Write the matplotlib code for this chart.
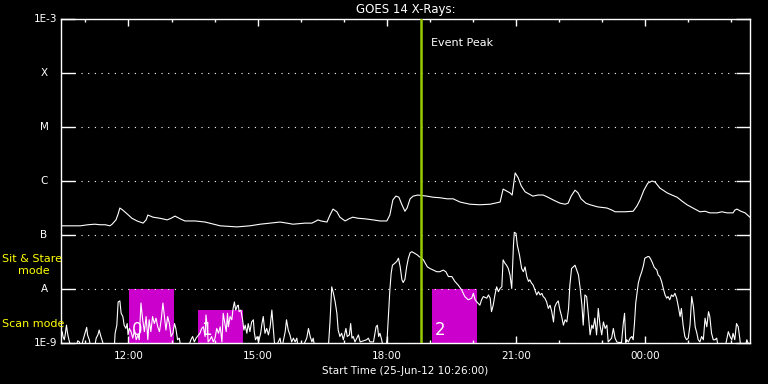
import matplotlib
matplotlib.use("Agg")
import matplotlib.pyplot as plt
import matplotlib.transforms as mtransforms
from matplotlib.ticker import FixedLocator, NullLocator
import numpy as np

# ---------------- data (time in hours of 25-Jun-12, >24 = next day; flux as log10 W/m^2) -------------
long_t = [10.43, 10.64, 10.88, 11.06, 11.22, 11.34, 11.46, 11.57, 11.62, 11.71, 11.76, 11.80, 11.87,
          11.97, 12.08, 12.20, 12.34, 12.41, 12.45, 12.57, 12.73, 12.90, 12.99, 13.08, 13.20, 13.31,
          13.55, 13.78, 14.13, 14.52, 14.82, 15.06, 15.29, 15.52, 15.68, 15.82, 16.10, 16.26, 16.36,
          16.40, 16.47, 16.61, 16.68, 16.75, 16.84, 16.91, 17.03, 17.12, 17.21, 17.33, 17.49, 17.68,
          17.84, 18.00, 18.07, 18.14, 18.21, 18.28, 18.35, 18.42, 18.47, 18.54, 18.61, 18.72, 18.93,
          19.07, 19.23, 19.40, 19.54, 19.70, 19.93, 20.16, 20.40, 20.63, 20.70, 20.79, 20.86, 20.91,
          20.98, 21.05, 21.12, 21.21, 21.30, 21.39, 21.51, 21.63, 21.74, 21.86, 22.02, 22.14, 22.21,
          22.28, 22.37, 22.44, 22.51, 22.62, 22.72, 22.90, 23.11, 23.23, 23.30, 23.53, 23.72, 23.81,
          23.88, 23.97, 24.06, 24.16, 24.23, 24.34, 24.51, 24.62, 24.74, 24.85, 24.97, 25.11, 25.27,
          25.39, 25.50, 25.67, 25.78, 25.90, 26.04, 26.08, 26.13, 26.22, 26.32, 26.43]
long_log = [-6.83, -6.83, -6.83, -6.81, -6.80, -6.81, -6.81, -6.83, -6.80, -6.72, -6.61, -6.50, -6.54,
            -6.61, -6.69, -6.74, -6.78, -6.72, -6.63, -6.67, -6.69, -6.72, -6.69, -6.65, -6.70, -6.74,
            -6.74, -6.76, -6.83, -6.85, -6.83, -6.80, -6.78, -6.76, -6.78, -6.80, -6.78, -6.78, -6.74,
            -6.72, -6.74, -6.76, -6.63, -6.52, -6.57, -6.67, -6.74, -6.70, -6.67, -6.69, -6.70, -6.72,
            -6.74, -6.74, -6.63, -6.35, -6.28, -6.30, -6.44, -6.56, -6.50, -6.33, -6.28, -6.26, -6.28,
            -6.30, -6.31, -6.33, -6.33, -6.39, -6.43, -6.44, -6.43, -6.39, -6.15, -6.19, -6.22, -6.26,
            -5.85, -5.94, -6.09, -6.20, -6.24, -6.28, -6.26, -6.26, -6.30, -6.35, -6.41, -6.43, -6.41,
            -6.28, -6.17, -6.22, -6.33, -6.41, -6.44, -6.48, -6.50, -6.54, -6.57, -6.57, -6.56, -6.46,
            -6.35, -6.17, -6.04, -6.00, -6.02, -6.13, -6.22, -6.26, -6.30, -6.37, -6.44, -6.50, -6.57,
            -6.56, -6.59, -6.59, -6.57, -6.59, -6.59, -6.54, -6.52, -6.56, -6.59, -6.67]

short_t = [10.43, 10.46, 10.48, 10.51, 10.53, 10.56, 10.58, 10.60, 10.63, 10.67, 10.78, 10.82, 10.86,
           10.90, 10.94, 10.99, 11.03, 11.05, 11.09, 11.13, 11.21, 11.25, 11.29, 11.32, 11.36, 11.40,
           11.44, 11.67, 11.69, 11.73, 11.76, 11.80, 11.83, 11.87, 11.90, 11.94, 11.97, 11.99, 12.02,
           12.06, 12.10, 12.14, 12.18, 12.22, 12.25, 12.29, 12.33, 12.37, 12.41, 12.45, 12.48, 12.52,
           12.56, 12.60, 12.64, 12.68, 12.72, 12.76, 12.80, 12.83, 12.87, 12.91, 12.95, 12.99, 13.03,
           13.07, 13.10, 13.14, 13.18, 13.22, 13.38, 13.45, 13.49, 13.53, 13.57, 13.66, 13.70, 13.74,
           13.78, 13.80, 13.83, 13.85, 13.89, 13.93, 13.97, 14.01, 14.05, 14.09, 14.13, 14.17, 14.20,
           14.24, 14.27, 14.30, 14.32, 14.36, 14.40, 14.43, 14.46, 14.49, 14.53, 14.55, 14.57, 14.61,
           14.65, 14.68, 14.71, 14.75, 14.78, 14.82, 14.86, 14.90, 14.92, 14.95, 14.99, 15.02, 15.07,
           15.10, 15.13, 15.17, 15.21, 15.25, 15.29, 15.33, 15.36, 15.40, 15.48, 15.52, 15.56, 15.64,
           15.67, 15.71, 15.75, 15.79, 15.83, 15.87, 15.91, 15.94, 16.02, 16.10, 16.14, 16.18, 16.22,
           16.26, 16.29, 16.33, 16.64, 16.68, 16.72, 16.76, 16.80, 16.84, 16.87, 16.91, 16.95, 16.99,
           17.05, 17.08, 17.13, 17.16, 17.19, 17.22, 17.26, 17.34, 17.38, 17.53, 17.57, 17.61, 17.69,
           17.75, 17.78, 17.81, 17.84, 17.88, 17.92, 17.98, 18.01, 18.04, 18.07, 18.10, 18.13, 18.19,
           18.23, 18.27, 18.31, 18.35, 18.38, 18.42, 18.46, 18.50, 18.54, 18.58, 18.65, 18.71, 18.75,
           18.81, 18.85, 18.89, 18.94, 19.00, 19.08, 19.16, 19.23, 19.31, 19.37, 19.43, 19.51, 19.58,
           19.66, 19.74, 19.81, 19.89, 19.97, 20.01, 20.05, 20.09, 20.16, 20.20, 20.24, 20.32, 20.36,
           20.40, 20.43, 20.47, 20.51, 20.55, 20.59, 20.63, 20.67, 20.70, 20.74, 20.78, 20.82, 20.86,
           20.90, 20.94, 20.96, 21.00, 21.03, 21.08, 21.13, 21.17, 21.21, 21.25, 21.29, 21.32, 21.36,
           21.40, 21.44, 21.48, 21.52, 21.56, 21.60, 21.63, 21.67, 21.71, 21.75, 21.79, 21.83, 21.87,
           21.90, 21.94, 21.98, 22.02, 22.06, 22.10, 22.14, 22.18, 22.22, 22.25, 22.29, 22.33, 22.37,
           22.41, 22.45, 22.49, 22.53, 22.56, 22.60, 22.64, 22.68, 22.72, 22.76, 22.79, 22.83, 22.87,
           22.91, 22.95, 22.99, 23.03, 23.07, 23.11, 23.14, 23.22, 23.26, 23.30, 23.34, 23.38, 23.45,
           23.49, 23.52, 23.55, 23.57, 23.61, 23.65, 23.69, 23.72, 23.75, 23.78, 23.81, 23.84, 23.88,
           23.92, 23.96, 23.99, 24.06, 24.09, 24.13, 24.17, 24.21, 24.27, 24.30, 24.34, 24.38, 24.42,
           24.46, 24.50, 24.53, 24.57, 24.61, 24.65, 24.69, 24.73, 24.77, 24.81, 24.84, 24.88, 24.92,
           24.96, 25.00, 25.04, 25.08, 25.12, 25.16, 25.20, 25.23, 25.27, 25.31, 25.35, 25.39, 25.43,
           25.47, 25.50, 25.54, 25.58, 25.62, 25.66, 25.70, 25.85, 25.89, 25.93, 25.97, 26.01, 26.04,
           26.08, 26.12, 26.16, 26.20, 26.22, 26.32, 26.36, 26.43]
short_log = [-8.82, -8.79, -8.88, -8.94, -8.85, -8.67, -8.79, -8.88, -8.98, -9.10, -9.10, -8.96, -8.98,
             -9.10, -8.96, -8.82, -8.71, -8.85, -8.94, -9.10, -9.10, -8.91, -8.85, -8.76, -8.88, -8.98,
             -9.10, -9.10, -8.82, -8.67, -8.24, -8.22, -8.45, -8.51, -8.67, -8.73, -8.64, -8.85, -8.73,
             -8.79, -8.91, -8.76, -8.94, -8.85, -8.94, -8.26, -8.57, -8.79, -8.51, -8.94, -8.57, -8.79,
             -8.51, -8.64, -8.54, -8.70, -8.79, -8.57, -8.26, -8.48, -8.76, -8.51, -8.64, -8.88, -8.82,
             -8.64, -8.73, -8.94, -8.91, -9.10, -9.10, -8.94, -8.88, -8.98, -8.91, -8.82, -8.73, -8.70,
             -8.88, -8.48, -8.70, -8.98, -8.94, -8.88, -8.98, -8.91, -8.73, -8.82, -8.70, -8.98, -8.45,
             -8.64, -8.79, -8.45, -8.70, -8.51, -8.57, -8.36, -8.24, -8.39, -8.31, -8.30, -8.42, -8.39,
             -8.57, -8.76, -8.67, -8.82, -8.64, -8.79, -8.61, -8.57, -8.79, -8.94, -8.88, -8.98, -8.82,
             -8.64, -8.51, -8.82, -8.73, -8.85, -8.70, -8.39, -8.70, -9.10, -8.98, -8.91, -9.10, -8.79,
             -8.57, -8.76, -8.85, -8.98, -8.91, -8.98, -8.91, -9.10, -9.10, -8.98, -8.91, -8.73, -8.88,
             -8.98, -8.91, -9.10, -9.10, -8.61, -7.96, -8.08, -8.24, -8.45, -8.76, -8.88, -8.82, -8.94,
             -8.73, -8.88, -8.85, -8.64, -8.91, -8.88, -8.98, -8.85, -8.98, -8.94, -8.91, -8.98, -8.98,
             -8.70, -8.67, -8.88, -8.82, -8.94, -9.10, -9.10, -8.88, -8.45, -8.02, -7.71, -7.56, -7.52,
             -7.49, -7.43, -7.59, -7.83, -7.88, -7.82, -7.59, -7.43, -7.33, -7.31, -7.34, -7.37, -7.40,
             -7.43, -7.46, -7.52, -7.59, -7.62, -7.65, -7.68, -7.68, -7.65, -7.68, -7.77, -7.77, -7.86,
             -7.93, -8.02, -8.14, -8.20, -8.17, -8.08, -8.20, -8.24, -8.30, -8.20, -8.14, -8.17, -8.11,
             -8.17, -8.42, -8.30, -8.11, -7.96, -8.05, -7.99, -7.96, -7.46, -7.52, -7.56, -7.62, -7.74,
             -7.99, -7.19, -6.95, -6.97, -7.19, -7.37, -7.62, -7.68, -7.59, -7.77, -7.86, -7.83, -7.89,
             -7.93, -8.02, -8.11, -8.05, -8.11, -8.08, -8.14, -8.17, -8.24, -8.36, -8.30, -8.42, -8.61,
             -8.33, -8.26, -8.22, -8.39, -8.51, -8.67, -8.57, -8.61, -8.36, -7.93, -7.62, -7.59, -7.56,
             -7.65, -7.74, -7.99, -8.30, -8.67, -8.11, -8.14, -8.48, -8.85, -8.67, -8.73, -8.54, -8.85,
             -8.36, -8.67, -8.85, -8.61, -8.73, -8.67, -8.98, -8.91, -8.73, -8.91, -8.98, -8.99, -8.99,
             -8.64, -8.45, -8.99, -8.94, -8.98, -8.91, -8.88, -8.94, -8.64, -8.26, -8.08, -7.89, -7.77,
             -7.68, -7.56, -7.43, -7.40, -7.40, -7.45, -7.52, -7.60, -7.65, -7.74, -7.77, -7.86, -7.99,
             -8.11, -8.17, -8.14, -8.20, -8.11, -8.14, -8.08, -8.17, -8.33, -8.51, -8.36, -8.67, -8.88,
             -8.94, -8.91, -8.67, -8.14, -8.33, -8.70, -8.82, -8.94, -8.98, -8.88, -8.94, -8.54, -8.70,
             -8.42, -8.51, -8.82, -8.94, -8.94, -8.91, -9.10, -9.10, -8.94, -8.79, -8.88, -8.94, -8.82,
             -8.94, -8.64, -8.70, -8.94, -9.10, -9.10, -8.94, -9.10]

level_values = [1e-9, 1e-8, 1e-7, 1e-6, 1e-5, 1e-4, 1e-3]
level_labels = ["1E-9", "A", "B", "C", "M", "X", "1E-3"]
hour_ticks = [12, 15, 18, 21, 24]
hour_labels = ["12:00", "15:00", "18:00", "21:00", "00:00"]
minor_hours = list(range(11, 27))
t_start, t_end = 10.4333, 26.4333
event_peak_t = 18.79
box_start = [12.01, 13.62, 19.05]
box_end = [13.06, 14.66, 20.09]
box_top = [1e-8, 4.1e-9, 1e-8]
box_labels = ["0", "1", "2"]

# ---------------- figure ----------------
W, H = 768, 384
fig = plt.figure(figsize=(W / 100, H / 100), dpi=100, facecolor="black")
ax = fig.add_axes([61 / W, 41 / H, 689 / W, 324 / H], facecolor="black")
ax.set_yscale("log")
ax.set_xlim(t_start, t_end)
ax.set_ylim(1e-9, 1e-3)

for s in ax.spines.values():
    s.set_color("white")
    s.set_linewidth(1.0)

magenta = "#CC00CC"
for s, e, top in zip(box_start, box_end, box_top):
    ax.bar(s, top - 1e-9, bottom=1e-9, width=e - s, align="edge", color=magenta,
           linewidth=0, zorder=1)
for s, lab in zip(box_start, box_labels):
    ax.text(s + 0.06, 10 ** -8.93, lab, color="white", fontsize=12, ha="left", va="bottom",
            zorder=2)

ax.plot(long_t, 10 ** np.array(long_log), color="white", lw=0.8, zorder=3)
ax.plot(short_t, 10 ** np.array(short_log), color="white", lw=0.8, zorder=3)

ax.axvline(event_peak_t, color="#99CC00", lw=1.8, zorder=4)
ax.text(event_peak_t + 0.23, 10 ** -3.45, "Event Peak", color="white", fontsize=8,
        ha="left", va="center")

# y axis: levels
ax.yaxis.set_major_locator(FixedLocator(level_values))
ax.yaxis.set_minor_locator(NullLocator())
ax.tick_params(axis="y", which="major", direction="in", length=10, width=1, color="white",
               left=True, right=True, labelleft=False)
ax.grid(axis="y", which="major", color="white", linestyle=(0, (1, 5)), linewidth=0.8)
trans = mtransforms.blended_transform_factory(ax.transAxes, ax.transData)
for v, lab in zip(level_values, level_labels):
    if lab.startswith("1E"):
        ax.text(-4 / 689, v, lab, transform=trans, color="white", fontsize=7.5,
                ha="right", va="center")
    else:
        ax.text(-17 / 689, v, lab, transform=trans, color="white", fontsize=7.5,
                ha="center", va="center")

# x axis: hours
ax.xaxis.set_major_locator(FixedLocator(hour_ticks))
ax.set_xticklabels(hour_labels)
ax.xaxis.set_minor_locator(FixedLocator(minor_hours))
ax.tick_params(axis="x", which="major", direction="in", length=5, width=1, color="white",
               top=True, bottom=True, labelcolor="white", labelsize=7.5, pad=6)
ax.tick_params(axis="x", which="minor", direction="in", length=2.5, width=1, color="white",
               top=True, bottom=True)
ax.set_xlabel("Start Time (25-Jun-12 10:26:00)", color="white", fontsize=7.5, labelpad=3)
ax.set_title("GOES 14 X-Rays:", color="white", fontsize=8.5, pad=4)

# mode labels
fig.text(2 / W, 1 - 259 / H, "Sit & Stare", color="#FFFF00", fontsize=8, ha="left", va="center")
fig.text(34 / W, 1 - 271 / H, "mode", color="#FFFF00", fontsize=8, ha="center", va="center")
fig.text(2 / W, 1 - 324 / H, "Scan mode", color="#FFFF00", fontsize=8, ha="left", va="center")

fig.savefig("out.png", dpi=100, facecolor="black")
